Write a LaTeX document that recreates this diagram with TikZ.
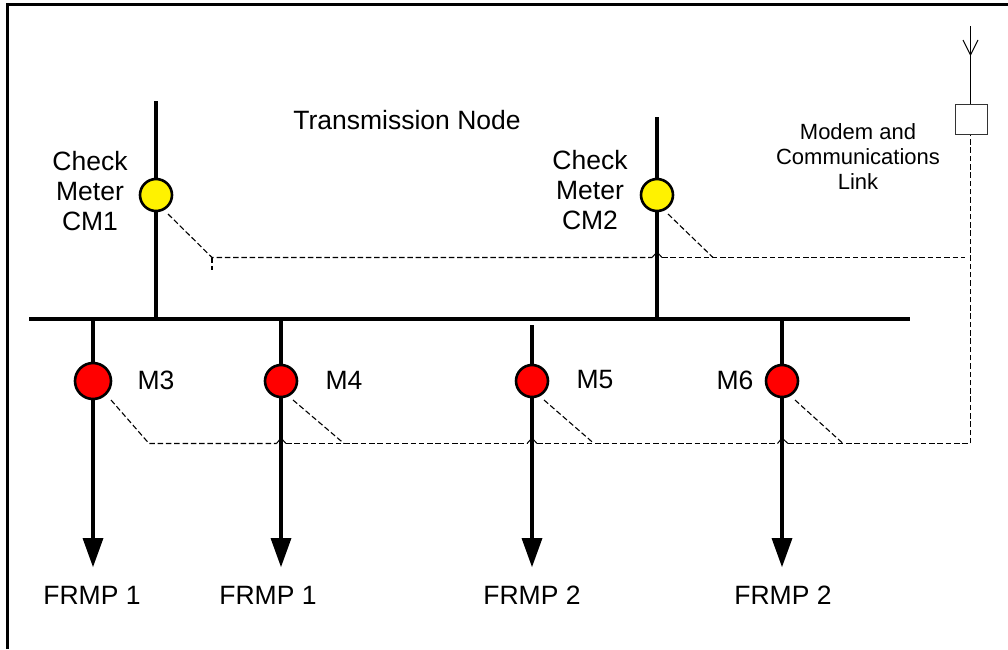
\documentclass[tikz,border=0pt]{standalone}
\usepackage{fontspec}
\setmainfont{Liberation Sans}
\usetikzlibrary{arrows.meta}
\tikzset{
  feeder/.style={line width=4.6pt,line cap=butt},
  feederarrow/.style={feeder,-{Triangle[length=29pt,width=21pt,line width=0pt]}},
  meter/.style={circle,draw=black,line width=2.6pt,inner sep=0pt,minimum size=#1},
  link/.style={line width=1.1pt,dash pattern=on 5.5pt off 2.8pt},
  hop/.style={line width=1pt},
  lbl/.style={font=\fontsize{26.5}{30}\selectfont,inner sep=0pt,align=center},
  smalllbl/.style={font=\fontsize{22}{25}\selectfont,inner sep=0pt,align=center},
  modem/.style={draw=black!80,line width=1pt,fill=white,minimum width=32pt,minimum height=30pt,inner sep=0pt}
}
\begin{document}
\begin{tikzpicture}[x=1pt,y=-1pt]
\useasboundingbox (0,0) rectangle (1008,649);
% frame
\coordinate (frameBL) at (7.5,649);
\coordinate (frameTL) at (7.5,4.5);
\coordinate (frameTR) at (1008,4.5);
\draw[line width=2.2pt] (frameBL) -- (frameTL) -- (frameTR);
% bus and feeders
\coordinate (busL) at (29,319);
\coordinate (busR) at (910,319);
\coordinate (cm1top) at (156,101);
\coordinate (cm1bus) at (156,319);
\coordinate (cm2top) at (657,117);
\coordinate (cm2bus) at (657,319);
\coordinate (m3bus) at (93,319);
\coordinate (m4bus) at (281,319);
\coordinate (m5bus) at (532,325);
\coordinate (m6bus) at (782,319);
\coordinate (m3end) at (93,567);
\coordinate (m4end) at (281,567);
\coordinate (m5end) at (532,567);
\coordinate (m6end) at (782,567);
\draw[feeder] (busL) -- (busR);
\draw[feeder] (cm1top) -- (cm1bus);
\draw[feeder] (cm2top) -- (cm2bus);
\draw[feederarrow] (m3bus) -- (m3end);
\draw[feederarrow] (m4bus) -- (m4end);
\draw[feederarrow] (m5bus) -- (m5end);
\draw[feederarrow] (m6bus) -- (m6end);
% meters
\node[meter=32pt,fill=yellow] (cm1) at (156,195) {};
\node[meter=32pt,fill=yellow] (cm2) at (657,195) {};
\node[meter=36pt,fill=red] (m3) at (93,381) {};
\node[meter=32pt,fill=red] (m4) at (281,381) {};
\node[meter=32pt,fill=red] (m5) at (532,381) {};
\node[meter=32pt,fill=red] (m6) at (782,381) {};
% modem and antenna
\node[modem] (box) at (971,119) {};
\coordinate (antTop) at (970.5,26);
\coordinate (antTip) at (970.5,55);
\coordinate (antL) at (963,40);
\coordinate (antR) at (978,40);
\draw[line width=1.1pt] (antTop) -- (box.north -| antTop);
\draw[line width=1pt] (antL) -- (antTip) -- (antR);
% upper dashed link
\coordinate (upA) at (168,214);
\coordinate (upB) at (212,257.5);
\coordinate (upStub) at (212,270);
\coordinate (upEnd) at (965,257.5);
\coordinate (upHopA) at (652,257.5);
\coordinate (upHopT) at (657,252);
\coordinate (upHopB) at (662,257.5);
\coordinate (cm2A) at (668,214);
\coordinate (cm2B) at (713,257.5);
\draw[link] (upA) -- (upB) -- (upHopA);
\draw[link] (upB) -- (upStub);
\draw[hop] (upHopA) -- (upHopT) -- (upHopB);
\draw[link] (upHopB) -- (upEnd);
\draw[link] (cm2A) -- (cm2B);
% lower dashed link
\coordinate (loA) at (111,400);
\coordinate (loB) at (149,443.5);
\coordinate (h4A) at (276.5,443.5);
\coordinate (h4T) at (281,438);
\coordinate (h4B) at (286,443.5);
\coordinate (h5A) at (527,443.5);
\coordinate (h5T) at (532,438);
\coordinate (h5B) at (537,443.5);
\coordinate (h6A) at (777.5,443.5);
\coordinate (h6T) at (782,438);
\coordinate (h6B) at (788,443.5);
\coordinate (corner) at (970.5,443.5);
\draw[link] (loA) -- (loB) -- (h4A);
\draw[hop] (h4A) -- (h4T) -- (h4B);
\draw[link] (h4B) -- (h5A);
\draw[hop] (h5A) -- (h5T) -- (h5B);
\draw[link] (h5B) -- (h6A);
\draw[hop] (h6A) -- (h6T) -- (h6B);
\draw[link] (h6B) -- (corner) -- (box.south -| corner);
\coordinate (m4A) at (293,400);
\coordinate (m4B) at (344,443.5);
\coordinate (m5A) at (544,400);
\coordinate (m5B) at (594,443.5);
\coordinate (m6A) at (795,400);
\coordinate (m6B) at (843,443.5);
\draw[link] (m4A) -- (m4B);
\draw[link] (m5A) -- (m5B);
\draw[link] (m6A) -- (m6B);
% labels
\node[lbl] (title) at (407,120) {Transmission Node};
\node[lbl] (cm1lbl) at (90,191) {Check\\Meter\\CM1};
\node[lbl] (cm2lbl) at (590,190) {Check\\Meter\\CM2};
\node[smalllbl] (modemlbl) at (858,157) {Modem and\\Communications\\Link};
\node[lbl] (m3lbl) at (156,380) {M3};
\node[lbl] (m4lbl) at (344,380) {M4};
\node[lbl] (m5lbl) at (595,380) {M5};
\node[lbl] (m6lbl) at (735,380) {M6};
\node[lbl] (f1) at (92,595) {FRMP 1};
\node[lbl] (f2) at (268,595) {FRMP 1};
\node[lbl] (f3) at (532,595) {FRMP 2};
\node[lbl] (f4) at (783,595) {FRMP 2};
\end{tikzpicture}
\end{document}
